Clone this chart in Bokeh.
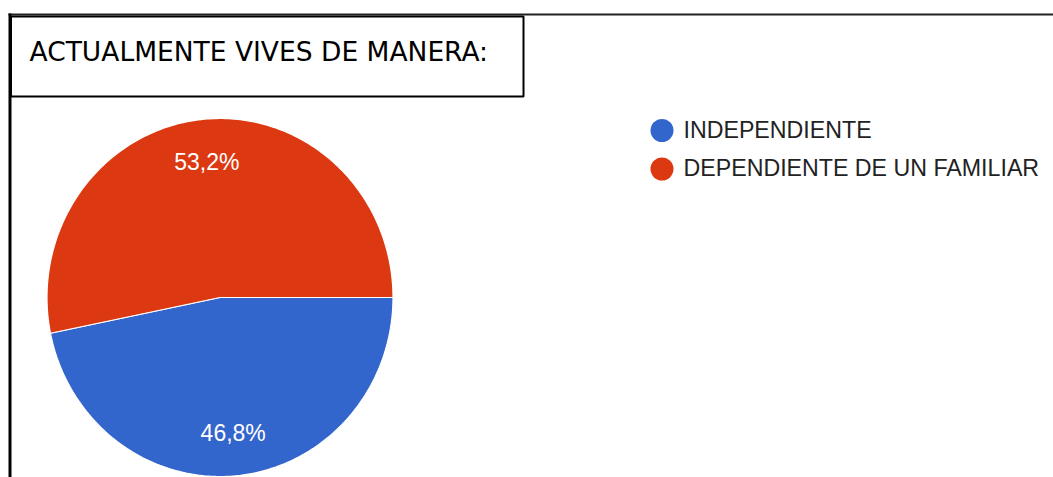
import math
from bokeh.plotting import figure
from bokeh.models import Range1d
from bokeh.core.properties import value
from bokeh.embed import file_html
from bokeh.resources import INLINE

# ---- data ----
title_text = "ACTUALMENTE VIVES DE MANERA:"
categories = ["INDEPENDIENTE", "DEPENDIENTE DE UN FAMILIAR"]
percentages = [46.8, 53.2]
colors = ["#3366CC", "#DC3912"]

W, H = 1053, 477
p = figure(width=W, height=H, frame_width=W, frame_height=H,
           x_range=Range1d(0, W), y_range=Range1d(H, 0),
           output_backend="svg", toolbar_location=None, min_border=0)
p.axis.visible = False
p.grid.visible = False
p.outline_line_color = None
p.background_fill_color = "white"
p.border_fill_color = "white"

# ---- frame / title box ----
p.segment(x0=[8], y0=[14], x1=[W], y1=[14], line_color="#222222", line_width=2)
p.segment(x0=[9.5], y0=[13], x1=[9.5], y1=[H], line_color="#000000", line_width=3)
p.quad(left=[10.5], right=[523], top=[16], bottom=[96], fill_color=None,
       line_color="#000000", line_width=2)
p.text(x=[29], y=[50.5], text=[title_text], text_font=value("DejaVu Sans"),
       text_font_size="26.5px", text_color="#000000",
       text_baseline="alphabetic", text_align="left")

# ---- pie (elliptical, as in the reference) ----
cx, cy, rx, ry = 219.5, 297, 173, 179
total = sum(percentages)
xs, ys, lx, ly, labels = [], [], [], [], []
start = 0.0
for pct in percentages:
    span = 360.0 * pct / total
    n = max(int(span), 2)
    angs = [math.radians(start + span * i / n) for i in range(n + 1)]
    xs.append([cx] + [cx + rx * math.cos(a) for a in angs])
    ys.append([cy] + [cy + ry * math.sin(a) for a in angs])
    mid = math.radians(start + span / 2)
    lx.append(cx + 0.76 * rx * math.cos(mid))
    ly.append(cy + 0.76 * ry * math.sin(mid))
    labels.append(f"{pct:.1f}%".replace(".", ","))
    start += span

p.patches(xs=xs, ys=ys, fill_color=colors, line_color="white", line_width=1.2)
p.text(x=lx, y=ly, text=labels, text_font=value("Liberation Sans"),
       text_font_size="23px", text_color="white",
       text_align="center", text_baseline="middle")

# ---- legend ----
leg_x = [661.5] * len(categories)
leg_y = [130 + 38.5 * i for i in range(len(categories))]
p.scatter(x=leg_x, y=leg_y, size=23, marker="circle", fill_color=colors, line_color=None)
p.text(x=[683] * len(categories), y=[y - 1 for y in leg_y], text=categories,
       text_font=value("Liberation Sans"), text_font_size="23.2px",
       text_color="#222222", text_align="left", text_baseline="middle")

open("out.html", "w").write(file_html(p, INLINE))
